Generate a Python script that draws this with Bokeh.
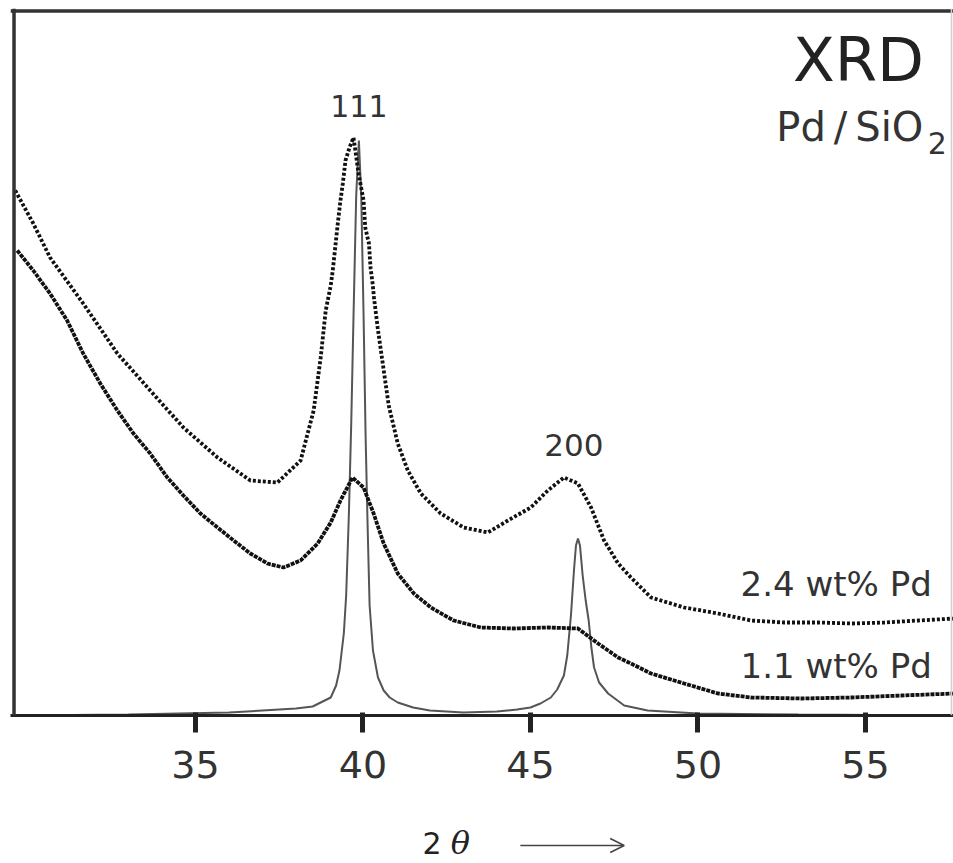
from bokeh.plotting import figure
from bokeh.layouts import column
from bokeh.models import Range1d, Label, Arrow, OpenHead, FixedTicker, Span
from bokeh.embed import file_html
from bokeh.resources import INLINE

# ---- data (intensity in arbitrary units) ----
two_theta_24 = [29.62, 30.16, 30.66, 31.65, 32.67, 33.65, 34.64, 35.66, 36.64, 37.45,
                38.14, 38.53, 38.74, 38.89, 39.04, 39.10, 39.25, 39.33, 39.40, 39.48,
                39.60, 39.72, 39.87, 40.02, 40.07, 40.18, 40.23, 40.29, 40.33, 40.44,
                40.77, 41.04, 41.34, 41.73, 42.32, 43.01, 43.73, 44.33, 45.01, 45.52,
                46.00, 46.42, 46.81, 47.20, 47.62, 48.00, 48.60, 49.59, 50.60, 51.59,
                52.58, 53.60, 54.58, 55.57, 56.58, 57.66]
intensity_24 = [525, 492, 458, 412, 362, 325, 288, 258, 235, 233,
                255, 305, 358, 405, 430, 445, 492, 515, 532, 555,
                568, 578, 542, 515, 488, 472, 447, 432, 418, 388,
                310, 272, 245, 222, 202, 188, 183, 195, 208, 225,
                238, 232, 208, 175, 152, 138, 118, 108, 102, 95,
                93, 93, 92, 93, 95, 97]

two_theta_11 = [29.68, 30.16, 30.66, 31.17, 31.65, 32.16, 32.67, 33.15, 33.65, 34.16,
                34.64, 35.15, 35.66, 36.14, 36.64, 37.15, 37.63, 38.14, 38.65, 39.04,
                39.33, 39.69, 40.02, 40.32, 40.62, 41.04, 41.52, 42.03, 42.71, 43.52,
                44.51, 45.52, 46.42, 47.02, 47.62, 48.00, 48.60, 49.59, 50.60, 51.59,
                53.09, 54.58, 56.08, 57.66]
intensity_11 = [465, 445, 422, 395, 362, 332, 305, 282, 262, 238,
                220, 202, 188, 175, 162, 152, 148, 155, 172, 193,
                215, 238, 228, 202, 172, 142, 122, 108, 95, 88,
                87, 88, 87, 72, 58, 52, 42, 32, 22, 18,
                17, 18, 20, 22]

two_theta_ref = [29.54, 33.0, 36.0, 37.5, 38.0, 38.5, 39.04, 39.2, 39.3, 39.43,
                 39.5, 39.58, 39.65, 39.72, 39.8, 39.88, 39.95, 40.02, 40.08, 40.14,
                 40.2, 40.3, 40.45, 40.62, 40.8, 41.04, 41.5, 42.0, 43.0, 44.0,
                 44.6, 45.0, 45.3, 45.61, 45.8, 46.0, 46.1, 46.21, 46.3, 46.36,
                 46.42, 46.48, 46.56, 46.65, 46.74, 46.82, 46.9, 47.05, 47.32, 47.8,
                 48.5, 50.0, 53.0, 57.63]
intensity_ref = [0, 1, 3, 6, 7, 9, 18, 30, 45, 82,
                 120, 200, 290, 400, 520, 575, 520, 400, 280, 190,
                 110, 65, 38, 25, 18, 13, 8, 5, 3, 4,
                 6, 8, 12, 18, 26, 40, 60, 100, 145, 170,
                 177, 170, 140, 115, 95, 68, 48, 33, 22, 10,
                 5, 2, 1, 0]

tick_values = [35, 40, 45, 50, 55]
peak_labels = ["111", "200"]
peak_positions = [39.88, 46.30]
series_labels = ["2.4 wt% Pd", "1.1 wt% Pd"]

X_RANGE = (29.48, 57.63)
Y_RANGE = (0, 707)
font = "DejaVu Sans"
dark = "#222222"
txt = "#333333"

# ---- main figure ----
p = figure(width=953, height=800, output_backend="svg", toolbar_location=None,
           x_range=Range1d(*X_RANGE), y_range=Range1d(*Y_RANGE),
           min_border_left=10, min_border_right=0, min_border_top=8,
           min_border_bottom=85)
p.background_fill_color = "white"
p.border_fill_color = "white"
p.outline_line_color = None
p.xgrid.visible = False
p.ygrid.visible = False
p.yaxis.visible = False

# frame: strong left and top edges, faint right edge
p.add_layout(Span(location=29.585, dimension="height", line_color="#333333", line_width=3.5))
p.add_layout(Span(location=704.5, dimension="width", line_color="#333333", line_width=3.5))
p.add_layout(Span(location=57.57, dimension="height", line_color="#d0d0d0", line_width=1.5))

ax = p.xaxis[0]
ax.ticker = FixedTicker(ticks=tick_values)
ax.minor_tick_line_color = None
ax.axis_line_color = dark
ax.axis_line_width = 3
ax.major_tick_line_color = dark
ax.major_tick_line_width = 5
ax.major_tick_out = 17
ax.major_tick_in = 3
ax.major_label_text_font = font
ax.major_label_text_font_size = "38px"
ax.major_label_text_color = txt
ax.major_label_standoff = 18

# curves
p.line(two_theta_ref, intensity_ref, line_color="#555555", line_width=2)
p.line(two_theta_11, intensity_11, line_color="#111111", line_width=3.8, line_dash="4 1")
p.line(two_theta_24, intensity_24, line_color="#111111", line_width=3.8, line_dash="3 2")

def add_label(fig, x, y, text, size, align="left", f=font, style="normal", color=txt):
    fig.add_layout(Label(x=x, y=y, text=text, text_font=f, text_font_style=style,
                         text_font_size=size, text_align=align,
                         text_baseline="alphabetic", text_color=color))

# peak labels
add_label(p, peak_positions[0], 610, peak_labels[0], "30px", "center")
add_label(p, peak_positions[1], 271, peak_labels[1], "31px", "center")
# series labels
add_label(p, 56.98, 132, series_labels[0], "34px", "right")
add_label(p, 56.98, 50, series_labels[1], "34px", "right")
# title block
add_label(p, 56.75, 656, "XRD", "61px", "right", color=dark)
add_label(p, 52.34, 589, "Pd\u2009/\u2009SiO", "40px", "left")
add_label(p, 56.86, 573, "2", "30px", "left")

# ---- strip below for the axis title "2θ ⟶" ----
q = figure(width=953, height=63, output_backend="svg", toolbar_location=None,
           x_range=Range1d(*X_RANGE), y_range=Range1d(0, 63),
           x_axis_location=None, y_axis_location=None,
           min_border_left=10, min_border_right=0, min_border_top=0,
           min_border_bottom=0)
q.outline_line_color = None
q.xgrid.visible = False
q.ygrid.visible = False
q.background_fill_color = "white"
q.border_fill_color = "white"
add_label(q, 41.78, 21, "2", "30px", "left", color=dark)
add_label(q, 42.62, 21, "θ", "32px", "left", f="DejaVu Serif", style="italic", color=dark)
q.add_layout(Arrow(x_start=44.70, y_start=18, x_end=47.80, y_end=18,
                   line_color="#444444", line_width=1.5,
                   end=OpenHead(size=14, line_color="#444444", line_width=1.5)))

layout = column(p, q, spacing=0)
open("out.html", "w").write(file_html(layout, INLINE))
